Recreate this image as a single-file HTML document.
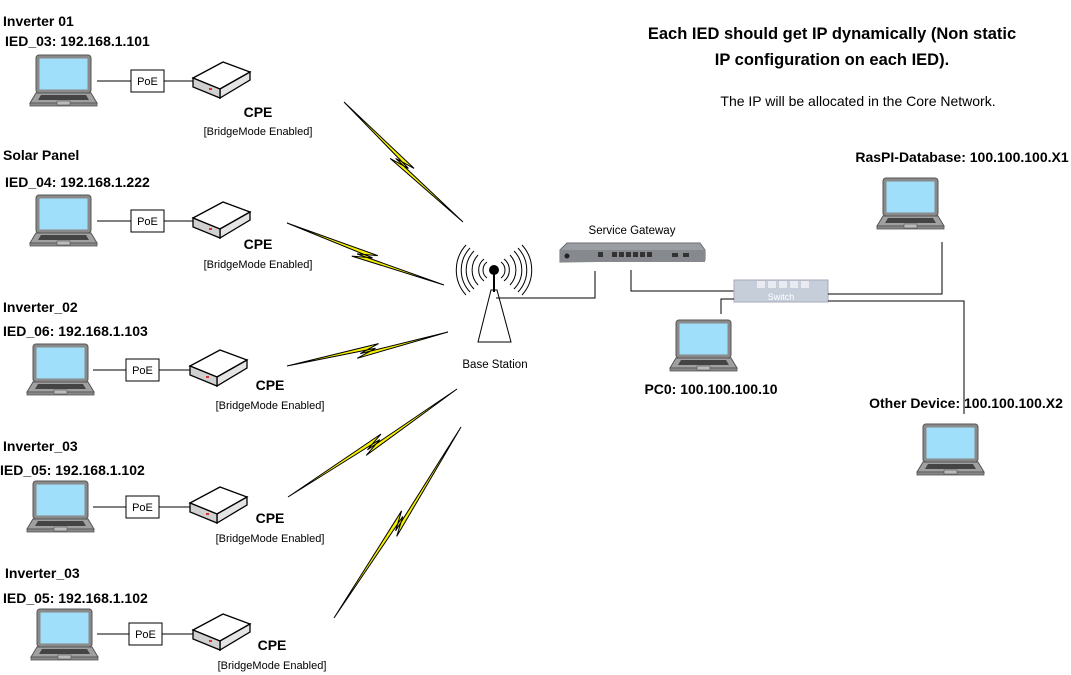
<!DOCTYPE html>
<html><head><meta charset="utf-8"><style>
body{margin:0;background:#fff;}
svg{display:block;font-family:"Liberation Sans",sans-serif;}
.b{font-weight:bold;font-size:14px;}
.s{font-size:11px;}
</style></head><body>
<svg id="s" width="1071" height="675" viewBox="0 0 1071 675" xmlns="http://www.w3.org/2000/svg">
<defs>
<g id="lap">
<rect x="6" y="0" width="55" height="38" rx="3" fill="#8a8a8a" stroke="#555" stroke-width="1"/>
<rect x="9.5" y="3.5" width="48" height="31" fill="#9fdff9"/>
<polygon points="6,38 61,38 67,48 0,48" fill="#a0a0a0" stroke="#555" stroke-width="1"/>
<polygon points="11,40 56,40 59,45 8,45" fill="#444"/>
<rect x="0" y="48" width="67" height="3" fill="#888" stroke="#555" stroke-width="0.8"/>
<rect x="27" y="46" width="13" height="4" fill="#bbb" stroke="#555" stroke-width="0.6"/>
</g>
<g id="cpe">
<polygon points="0,16 30,0 57,10 27,27" fill="#fff" stroke="#000" stroke-width="1.3"/>
<polygon points="27,27 57,10 57,18 27,36" fill="#e4e4e4" stroke="#000" stroke-width="1.3"/>
<polygon points="0,16 27,27 27,36 0,25" fill="#d0d0d0" stroke="#000" stroke-width="1.3"/>
<rect x="16" y="26" width="3" height="2" fill="#d33"/>
</g>
<g id="poe"><rect x="0" y="0" width="33" height="22" fill="#fff" stroke="#000" stroke-width="1"/><text x="16.5" y="15" text-anchor="middle" font-size="11">PoE</text></g>
</defs>

<text x="832" y="39" text-anchor="middle" font-weight="bold" font-size="16.5">Each IED should get IP dynamically (Non static</text>
<text x="832" y="65" text-anchor="middle" font-weight="bold" font-size="16.5">IP configuration on each IED).</text>
<text x="858" y="106" text-anchor="middle" font-size="14">The IP will be allocated in the Core Network.</text>

<text class="b" x="3" y="26">Inverter 01</text>
<text class="b" x="5" y="46">IED_03: 192.168.1.101</text>
<use href="#lap" x="30" y="55"/>
<line x1="97" y1="81" x2="193" y2="81" stroke="#000"/>
<use href="#poe" x="131" y="70"/>
<use href="#cpe" x="193" y="62"/>
<text class="b" x="258" y="117" text-anchor="middle">CPE</text>
<text class="s" x="258" y="135" text-anchor="middle">[BridgeMode Enabled]</text>

<text class="b" x="3" y="160">Solar Panel</text>
<text class="b" x="5" y="187">IED_04: 192.168.1.222</text>
<use href="#lap" x="30" y="195"/>
<line x1="97" y1="221" x2="193" y2="221" stroke="#000"/>
<use href="#poe" x="131" y="210"/>
<use href="#cpe" x="193" y="202"/>
<text class="b" x="258" y="249" text-anchor="middle">CPE</text>
<text class="s" x="258" y="268" text-anchor="middle">[BridgeMode Enabled]</text>

<text class="b" x="3" y="312">Inverter_02</text>
<text class="b" x="3" y="336">IED_06: 192.168.1.103</text>
<use href="#lap" x="27" y="344"/>
<line x1="93" y1="370" x2="190" y2="370" stroke="#000"/>
<use href="#poe" x="126" y="359"/>
<use href="#cpe" x="190" y="350"/>
<text class="b" x="270" y="390" text-anchor="middle">CPE</text>
<text class="s" x="270" y="409" text-anchor="middle">[BridgeMode Enabled]</text>

<text class="b" x="3" y="451">Inverter_03</text>
<text class="b" x="0" y="475">IED_05: 192.168.1.102</text>
<use href="#lap" x="27" y="481"/>
<line x1="93" y1="507" x2="190" y2="507" stroke="#000"/>
<use href="#poe" x="126" y="496"/>
<use href="#cpe" x="190" y="487"/>
<text class="b" x="270" y="523" text-anchor="middle">CPE</text>
<text class="s" x="270" y="542" text-anchor="middle">[BridgeMode Enabled]</text>

<text class="b" x="5" y="578">Inverter_03</text>
<text class="b" x="3" y="603">IED_05: 192.168.1.102</text>
<use href="#lap" x="31" y="609"/>
<line x1="97" y1="634" x2="193" y2="634" stroke="#000"/>
<use href="#poe" x="129" y="623"/>
<use href="#cpe" x="193" y="614"/>
<text class="b" x="272" y="650" text-anchor="middle">CPE</text>
<text class="s" x="272" y="669" text-anchor="middle">[BridgeMode Enabled]</text>

<g id="bolts"></g>

<g fill="none" stroke="#000" stroke-width="1">
<path d="M487,262 a10,10 0 0 0 0,16 M484,259 a14,14 0 0 0 0,22"/>
<path d="M501,262 a10,10 0 0 1 0,16 M504,259 a14,14 0 0 1 0,22"/>
<path d="M478,255 a22,22 0 0 0 0,30 M474,251 a27,27 0 0 0 0,38 M470,248 a32,32 0 0 0 0,44 M466,245 a37,37 0 0 0 0,50"/>
<path d="M510,255 a22,22 0 0 1 0,30 M514,251 a27,27 0 0 1 0,38 M518,248 a32,32 0 0 1 0,44 M522,245 a37,37 0 0 1 0,50"/>
<polygon points="491,290 497,290 511,342 478,342" fill="#fff"/>
</g>
<line x1="494" y1="272" x2="494" y2="292" stroke="#000" stroke-width="2"/>
<circle cx="494" cy="270" r="5" fill="#000"/>
<text x="495" y="368" text-anchor="middle" font-size="11.5">Base Station</text>
<polyline points="496,298 595,298 595,271" fill="none" stroke="#000"/>

<text x="632" y="234" text-anchor="middle" font-size="11.5">Service Gateway</text>
<polygon points="567,243 700,243 705,250 705,260 560,262 560,250" fill="#9a9ea3" stroke="#6a6e73"/>
<rect x="560" y="250" width="145" height="12" fill="#868a8f"/>
<g fill="#333"><rect x="612" y="252" width="5" height="5"/><rect x="619" y="252" width="5" height="5"/><rect x="626" y="252" width="5" height="5"/><rect x="633" y="252" width="5" height="5"/><rect x="640" y="252" width="5" height="5"/><rect x="647" y="252" width="5" height="5"/><rect x="598" y="252" width="5" height="5"/><rect x="672" y="253" width="6" height="4"/><rect x="683" y="253" width="6" height="4"/></g>
<circle cx="567" cy="256" r="2.5" fill="#222"/>
<polyline points="631,270 631,291 734,291" fill="none" stroke="#000"/>

<rect x="734" y="280" width="94" height="22" fill="#c6ceda" stroke="#aab"/>
<g fill="#e8ecf2"><rect x="757" y="281" width="8" height="7"/><rect x="768" y="281" width="8" height="7"/><rect x="779" y="281" width="8" height="7"/><rect x="790" y="281" width="8" height="7"/><rect x="801" y="281" width="8" height="7"/></g>
<text x="781" y="300" text-anchor="middle" font-size="9" fill="#fff">Switch</text>
<polyline points="734,299 721,299 721,314" fill="none" stroke="#000"/>
<polyline points="828,294 942,294 942,242" fill="none" stroke="#000"/>
<polyline points="828,301 964,301 964,414" fill="none" stroke="#000"/>

<text class="b" x="962" y="162" text-anchor="middle">RasPI-Database: 100.100.100.X1</text>
<use href="#lap" x="877" y="178"/>
<use href="#lap" x="670" y="320"/>
<text class="b" x="711" y="394" text-anchor="middle">PC0: 100.100.100.10</text>
<text class="b" x="966" y="408" text-anchor="middle">Other Device: 100.100.100.X2</text>
<use href="#lap" x="917" y="424"/>
</svg>
<script>
var B=[[344,102,463,222],[287,223,444,285],[287,366,448,332],[288,497,457,389],[334,618,461,427]];
var g=document.getElementById('bolts'),h='';
B.forEach(function(b){
 var dx=b[2]-b[0],dy=b[3]-b[1],L=Math.hypot(dx,dy),ux=dx/L,uy=dy/L,nx=-uy,ny=ux,m=L/2;
 function P(u,v){return (b[0]+ux*u+nx*v).toFixed(1)+','+(b[1]+uy*u+ny*v).toFixed(1);}
 var pts=[P(0,0),P(m+12,-3),P(m-8,3),P(L,0),P(m-12,7),P(m+8,1)].join(' ');
 h+='<polygon points="'+pts+'" fill="#f5f000" stroke="#000" stroke-width="1" stroke-linejoin="miter"/>';
});
g.innerHTML=h;
</script>
</body></html>
